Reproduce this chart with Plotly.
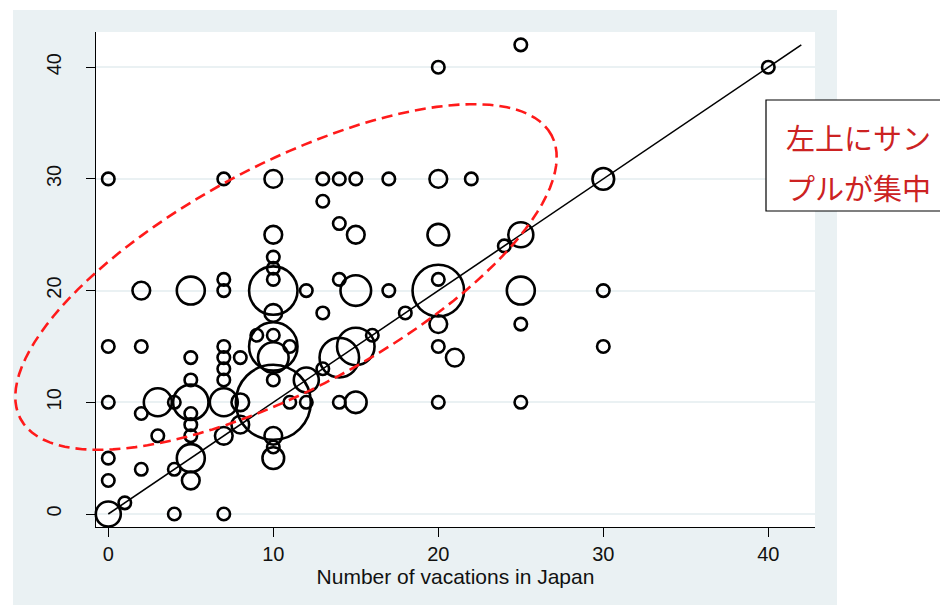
import numpy as np
import plotly.graph_objects as go

# ---------------- data ----------------
vac_x = [0, 7, 10, 13, 14, 15, 17, 20, 22, 30,
         13, 14, 10, 15, 20, 25, 24,
         10, 10, 10, 7, 14, 20,
         25, 20, 40,
         2, 5, 7, 10, 12, 15, 17, 20, 25, 30,
         10, 13, 18, 20, 25,
         9, 10, 16,
         0, 2, 7, 10, 11, 15, 20, 30,
         5, 7, 8, 10, 14, 21,
         7, 13,
         5, 7, 10, 12,
         0, 3, 4, 5, 7, 8, 10, 11, 12, 14, 15, 20, 25,
         2, 5,
         5, 8,
         3, 5, 7, 10,
         10,
         0, 5, 10,
         2, 4,
         0, 5,
         1,
         0, 4, 7]
vac_y = [30, 30, 30, 30, 30, 30, 30, 30, 30, 30,
         28, 26, 25, 25, 25, 25, 24,
         23, 22, 21, 21, 21, 21,
         42, 40, 40,
         20, 20, 20, 20, 20, 20, 20, 20, 20, 20,
         18, 18, 18, 17, 17,
         16, 16, 16,
         15, 15, 15, 15, 15, 15, 15, 15,
         14, 14, 14, 14, 14, 14,
         13, 13,
         12, 12, 12, 12,
         10, 10, 10, 10, 10, 10, 10, 10, 10, 10, 10, 10, 10,
         9, 9,
         8, 8,
         7, 7, 7, 7,
         6,
         5, 5, 5,
         4, 4,
         3, 3,
         1,
         0, 0, 0]
counts = [1, 1, 2, 1, 1, 1, 1, 2, 1, 3,
          1, 1, 2, 2, 3, 4, 1,
          1, 1, 1, 1, 1, 1,
          1, 1, 1,
          2, 5, 1, 15, 1, 6, 1, 17, 5, 1,
          2, 1, 1, 2, 1,
          1, 1, 1,
          1, 1, 1, 15, 1, 9, 1, 1,
          1, 1, 1, 6, 10, 2,
          1, 1,
          1, 1, 1, 4,
          1, 5, 1, 8, 5, 2, 36, 1, 1, 1, 3, 1, 1,
          1, 1,
          1, 2,
          1, 1, 2, 2,
          1,
          1, 5, 3,
          1, 1,
          1, 2,
          1,
          4, 1, 1]
fit_x = [0, 42]
fit_y = [0, 42]
x_ticks = [0, 10, 20, 30, 40]
y_ticks = [0, 10, 20, 30, 40]
x_title = "Number of vacations in Japan"
note_lines = ["左上にサン", "プルが集中"]

# ---------------- layout geometry (page pixels) ----------------
OFF = 8                      # default page body margin
PAGE_W, PAGE_H = 948, 605
W, H = PAGE_W - OFF, PAGE_H - OFF
L, R, T, B = 96, 815, 32, 527  # plot area in page pixels
X_RANGE = [-0.745, 42.83]
Y_RANGE = [-1.164, 43.15]
BG = "#eaf1f3"
RED = "#ff1a1a"


def to_paper(px, py):
    return (px - L) / (R - L), (B - py) / (B - T)


sizes = [12.5 * np.sqrt(c) for c in counts]

fig = go.Figure()
fig.add_trace(go.Scatter(
    x=vac_x, y=vac_y, mode="markers",
    marker=dict(symbol="circle", size=sizes, color="rgba(255,255,255,0)",
                opacity=1, line=dict(width=2.6, color="#000000")),
    hoverinfo="x+y", showlegend=False, cliponaxis=False))
fig.add_trace(go.Scatter(
    x=fit_x, y=fit_y, mode="lines",
    line=dict(color="black", width=1.6), showlegend=False))

shapes = []
# grey graph region
gx0, gy0 = to_paper(13, 10)
gx1, gy1 = to_paper(837, 615)
shapes.append(dict(type="rect", xref="paper", yref="paper", x0=gx0, x1=gx1,
                   y0=gy1, y1=gy0, fillcolor=BG, line=dict(width=0), layer="below"))
shapes.append(dict(type="rect", xref="paper", yref="paper", x0=0, x1=1,
                   y0=0, y1=1, fillcolor="white", line=dict(width=0), layer="below"))

# hand-drawn dashed ellipse (pixel-space definition)
cx, cy, ea, eb, th = 286, 277, 301, 112, np.deg2rad(28.1)
phi = np.linspace(0, 2 * np.pi, 121)
dx = ea * np.cos(phi) * np.cos(th) - eb * np.sin(phi) * np.sin(th)
dy = ea * np.cos(phi) * np.sin(th) + eb * np.sin(phi) * np.cos(th)
pts = [to_paper(cx + a, cy - b) for a, b in zip(dx, dy)]
path = "M " + " L ".join(f"{p[0]:.5f},{p[1]:.5f}" for p in pts) + " Z"
shapes.append(dict(type="path", xref="paper", yref="paper", path=path,
                   line=dict(color=RED, width=2.6, dash="11px,6px"), layer="above"))

# note box
bx0, by0 = to_paper(766, 100)
bx1, by1 = to_paper(960, 211)
shapes.append(dict(type="rect", xref="paper", yref="paper", x0=bx0, x1=bx1,
                   y0=by1, y1=by0, fillcolor="white",
                   line=dict(color="black", width=1.2), layer="above"))

annotations = []
for i, line_txt in enumerate(note_lines):
    ax_, ay_ = to_paper(784, 137 + 50 * i)
    annotations.append(dict(
        x=ax_, y=ay_, xref="paper", yref="paper", xanchor="left", yanchor="middle",
        text=line_txt, showarrow=False,
        font=dict(family="Noto Sans CJK JP", size=29, color="#cc2222")))

fig.update_layout(
    width=W, height=H,
    margin=dict(l=L - OFF, r=PAGE_W - R, t=T - OFF, b=PAGE_H - B, pad=0),
    paper_bgcolor="white", plot_bgcolor="white",
    font=dict(family="Liberation Sans, Arial, sans-serif", color="#111"),
    shapes=shapes, annotations=annotations,
    xaxis=dict(range=X_RANGE, tickvals=x_ticks, showgrid=False, zeroline=False,
               showline=True, linecolor="black", linewidth=1.3,
               ticks="outside", ticklen=9, tickcolor="black", tickwidth=1.2,
               tickfont=dict(size=20), ticklabelstandoff=0,
               title=dict(text=x_title, font=dict(size=21), standoff=0)),
    yaxis=dict(range=Y_RANGE, tickvals=y_ticks, showgrid=True, gridcolor=BG,
               gridwidth=2, zeroline=False,
               showline=True, linecolor="black", linewidth=1.3,
               ticks="outside", ticklen=9, tickcolor="black", tickwidth=1.2,
               tickfont=dict(size=20), tickangle=-90, ticklabelstandoff=17),
)

fig.write_html("out.html")
